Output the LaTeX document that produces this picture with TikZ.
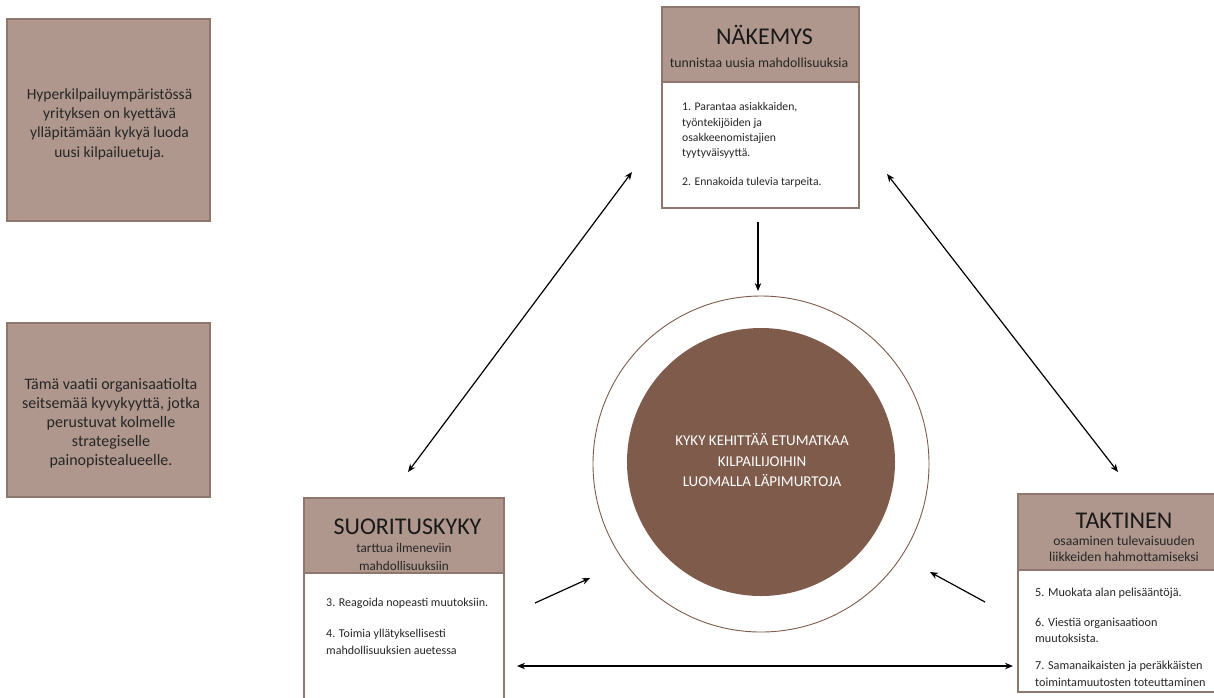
\documentclass[tikz,border=0pt]{standalone}
\usepackage{fontspec}
\setmainfont{Carlito}
\usetikzlibrary{arrows.meta}
\definecolor{taupe}{HTML}{AF978D}
\definecolor{taupeline}{HTML}{8E776D}
\definecolor{cbrown}{HTML}{7E5B4B}
\tikzset{
  infobox/.style={draw=taupeline, line width=1.2pt, fill=taupe, inner sep=0pt},
  headbox/.style={draw=taupeline, line width=1.2pt, fill=taupe, inner sep=0pt},
  bodybox/.style={draw=taupeline, line width=1.2pt, fill=white, inner sep=0pt},
  infotext/.style={align=center, inner sep=0pt, text=black!85},
  titletext/.style={inner sep=0pt, font=\fontsize{24}{28}\selectfont, text=black!90},
  subtext/.style={align=center, inner sep=0pt, text=black!85},
  itemtext/.style={align=left, anchor=west, inner sep=0pt, text=black!85},
  arr/.style={-{Stealth[length=8pt,width=6.5pt]}, line width=1.2pt, black},
  darr/.style={{Stealth[length=8pt,width=6.5pt]}-{Stealth[length=8pt,width=6.5pt]}, line width=1.2pt, black}
}
\begin{document}
\begin{tikzpicture}[x=1pt,y=-1pt]
\useasboundingbox[fill=white] (0,0) rectangle (1214,697);

% left info boxes
\node[infobox, minimum width=203pt, minimum height=202pt] (b1) at (108.5,120) {};
\node[infotext, font=\fontsize{15.5}{19.3}\selectfont] (t1) at (109.5,124) {Hyperkilpailuympäristössä\\yrityksen on kyettävä\\ylläpitämään kykyä luoda\\uusi kilpailuetuja.};
\node[infobox, minimum width=203pt, minimum height=174pt] (b2) at (108.5,410) {};
\node[infotext, font=\fontsize{16}{19}\selectfont] (t2) at (111,423) {Tämä vaatii organisaatiolta\\seitsemää kyvykyyttä, jotka\\perustuvat kolmelle\\strategiselle\\painopistealueelle.};

% NÄKEMYS
\node[headbox, minimum width=197pt, minimum height=75pt] (nh) at (760.5,44.5) {};
\node[bodybox, minimum width=197pt, minimum height=126pt] (nb) at (760.5,145) {};
\node[titletext] (nt) at (764.5,35) {NÄKEMYS};
\node[subtext, font=\fontsize{13.8}{16}\selectfont] (ns) at (759,63) {tunnistaa uusia mahdollisuuksia};
\node[itemtext, font=\fontsize{11.7}{15.2}\selectfont] (n1) at (682,130.5) {1. Parantaa asiakkaiden,\\työntekijöiden ja\\osakkeenomistajien\\tyytyväisyyttä.};
\node[itemtext, font=\fontsize{11.7}{15.2}\selectfont] (n2) at (682,182) {2. Ennakoida tulevia tarpeita.};

% SUORITUSKYKY
\node[headbox, minimum width=200pt, minimum height=75pt] (sh) at (404,535.5) {};
\node[bodybox, minimum width=200pt, minimum height=134pt] (sb) at (404,640) {};
\node[titletext] (st) at (407.5,527) {SUORITUSKYKY};
\node[subtext, font=\fontsize{13.2}{18}\selectfont] (ss) at (404,557) {tarttua ilmeneviin\\mahdollisuuksiin};
\node[itemtext, font=\fontsize{12}{17}\selectfont] (s3) at (326,603) {3. Reagoida nopeasti muutoksiin.};
\node[itemtext, font=\fontsize{12}{17}\selectfont] (s4) at (326,641.5) {4. Toimia yllätyksellisesti\\mahdollisuuksien auetessa};

% TAKTINEN
\node[headbox, minimum width=214pt, minimum height=76pt] (th) at (1125,532) {};
\node[bodybox, minimum width=214pt, minimum height=122pt] (tb) at (1125,631) {};
\node[titletext] (tt) at (1124,521) {TAKTINEN};
\node[subtext, font=\fontsize{13.6}{16}\selectfont] (ts) at (1124,549) {osaaminen tulevaisuuden\\liikkeiden hahmottamiseksi};
\node[itemtext, font=\fontsize{12.2}{16}\selectfont] (t5) at (1035,593) {5. Muokata alan pelisääntöjä.};
\node[itemtext, font=\fontsize{12.2}{16}\selectfont] (t6) at (1035,630) {6. Viestiä organisaatioon\\muutoksista.};
\node[itemtext, font=\fontsize{12.2}{17}\selectfont] (t7) at (1035,673.5) {7. Samanaikaisten ja peräkkäisten\\toimintamuutosten toteuttaminen};

% centre circles
\node[circle, draw=cbrown, line width=0.9pt, fill=white, minimum size=336pt, inner sep=0pt] (outer) at (761,464) {};
\node[circle, fill=cbrown, minimum size=268pt, inner sep=0pt] (inner) at (761,462) {};
\node[align=center, text=white, inner sep=0pt, font=\fontsize{15}{20.5}\selectfont] (ct) at (762,460.5) {KYKY KEHITTÄÄ ETUMATKAA\\KILPAILIJOIHIN\\LUOMALLA LÄPIMURTOJA};

% arrow end points
\coordinate (a1s) at (758,222);
\coordinate (a1e) at (758,291);
\coordinate (a2s) at (408,472);
\coordinate (a2e) at (632,172);
\coordinate (a3s) at (887,174);
\coordinate (a3e) at (1118,472);
\coordinate (a4s) at (535,603);
\coordinate (a4e) at (590,578);
\coordinate (a5s) at (985,602);
\coordinate (a5e) at (930,572);
\coordinate (a6s) at (517,666);
\coordinate (a6e) at (1013,666);

\draw[arr] (a1s) -- (a1e);
\draw[darr] (a2s) -- (a2e);
\draw[darr] (a3s) -- (a3e);
\draw[arr] (a4s) -- (a4e);
\draw[arr] (a5s) -- (a5e);
\draw[darr] (a6s) -- (a6e);
\end{tikzpicture}
\end{document}
